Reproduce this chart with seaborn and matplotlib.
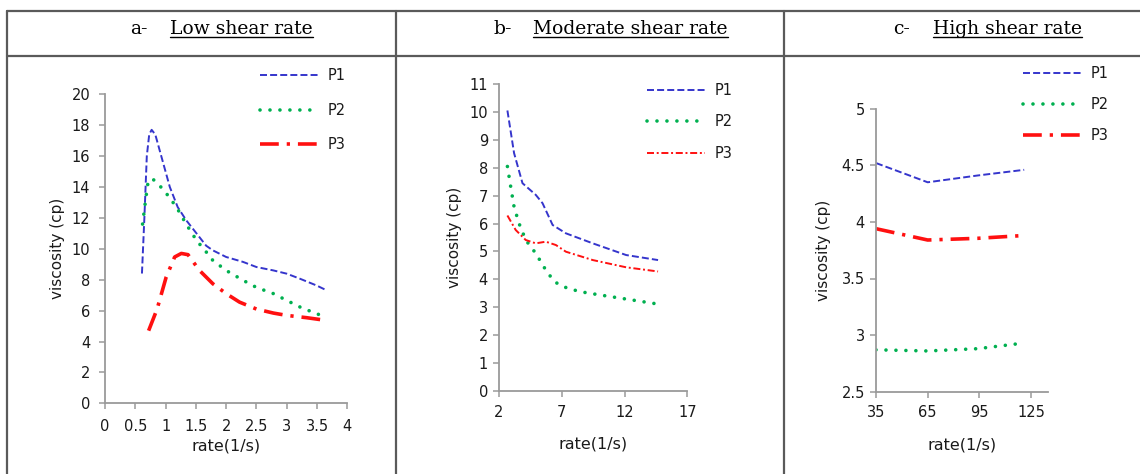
import matplotlib
matplotlib.use("Agg")
import matplotlib.pyplot as plt
from matplotlib.lines import Line2D
import numpy as np
import pandas as pd
import seaborn as sns

# ---------------- data ----------------
# Panel a: low shear rate
a_p1_x = [0.61, 0.65, 0.69, 0.73, 0.77, 0.83, 0.95, 1.07, 1.20, 1.34, 1.51, 1.67, 1.78, 2.00, 2.28, 2.50, 2.78, 3.00, 3.22, 3.49, 3.66]
a_p1_y = [8.4, 12.0, 16.0, 17.4, 17.7, 17.4, 15.7, 14.0, 12.7, 11.85, 11.0, 10.2, 9.9, 9.47, 9.15, 8.82, 8.6, 8.39, 8.06, 7.63, 7.31]
a_p2_x = [0.62, 0.67, 0.71, 0.78, 0.90, 1.01, 1.18, 1.34, 1.51, 1.67, 1.78, 2.00, 2.28, 2.50, 2.78, 3.00, 3.22, 3.49, 3.66]
a_p2_y = [11.6, 13.15, 14.3, 14.55, 14.1, 13.6, 12.7, 11.6, 10.55, 9.8, 9.25, 8.6, 7.96, 7.5, 7.1, 6.66, 6.23, 5.8, 5.58]
a_p3_x = [0.72, 0.86, 1.01, 1.15, 1.26, 1.37, 1.56, 1.78, 2.00, 2.22, 2.50, 2.78, 3.00, 3.33, 3.66]
a_p3_y = [4.7, 6.1, 8.17, 9.47, 9.7, 9.62, 8.6, 7.74, 7.1, 6.55, 6.1, 5.84, 5.69, 5.54, 5.36]

# Panel b: moderate shear rate
b_p1_x = [2.67, 3.2, 3.87, 4.93, 5.47, 6.27, 7.33, 9.47, 12.13, 14.67]
b_p1_y = [10.06, 8.53, 7.45, 7.03, 6.73, 5.95, 5.65, 5.29, 4.87, 4.69]
b_p2_x = [2.67, 2.93, 3.2, 3.6, 4.13, 4.93, 5.73, 6.4, 7.07, 8.4, 10.0, 12.13, 14.67]
b_p2_y = [8.05, 7.33, 6.6, 6.0, 5.41, 4.93, 4.33, 3.92, 3.74, 3.56, 3.44, 3.29, 3.11]
b_p3_x = [2.67, 3.33, 4.13, 4.93, 5.73, 6.53, 7.33, 9.47, 12.13, 14.67]
b_p3_y = [6.29, 5.77, 5.41, 5.29, 5.35, 5.23, 4.99, 4.69, 4.43, 4.28]

# Panel c: high shear rate
c_x = [35, 65, 94, 121]
c_p1_y = [4.52, 4.35, 4.41, 4.46]
c_p2_y = [2.87, 2.86, 2.88, 2.93]
c_p3_y = [3.94, 3.84, 3.855, 3.88]

series_labels = ["P1", "P2", "P3"]
panel_letters = ["a-", "b-", "c-"]
panel_titles = ["Low shear rate", "Moderate shear rate", "High shear rate"]
x_label = "rate(1/s)"
y_label = "viscosity (cp)"

a_xticks = [0, 0.5, 1, 1.5, 2, 2.5, 3, 3.5, 4]
a_yticks = [0, 2, 4, 6, 8, 10, 12, 14, 16, 18, 20]
b_xticks = [2, 7, 12, 17]
b_yticks = list(range(0, 12))
c_xticks = [35, 65, 95, 125]
c_yticks = [2.5, 3, 3.5, 4, 4.5, 5]

# ---------------- style ----------------
sns.set_theme(style="white")
plt.rcParams['font.family'] = ['DejaVu Sans']
plt.rcParams['lines.scale_dashes'] = True

W, H = 1140, 474
fig = plt.figure(figsize=(W / 100, H / 100), dpi=100)
fig.patch.set_facecolor("white")

BLUE = "#3535CC"
GREEN = "#00B050"
RED = "#FF1010"
AXC = "#9A9A9A"
TXT = "#1a1a1a"


def ax_at(l, r, t, b):
    return fig.add_axes([l / W, 1 - b / H, (r - l) / W, (b - t) / H])


def draw(ax, x, y, label, color, lw, dashes, cap="butt"):
    df = pd.DataFrame({"x": x, "y": y})
    sns.lineplot(data=df, x="x", y="y", ax=ax, color=color, linewidth=lw,
                 label=label, estimator=None, errorbar=None, sort=False)
    ln = ax.lines[-1]
    ln.set_dashes(dashes)
    ln.set_dash_capstyle(cap)
    return ln


def style_axes(ax, xlim, ylim, xticks, yticks, ypad, xpad, xlab_top, ylab_right, fmt):
    ax.set_xlim(*xlim)
    ax.set_ylim(*ylim)
    ax.set_xticks(xticks)
    ax.set_yticks(yticks)
    ax.set_xticklabels([fmt(v) for v in xticks])
    ax.set_yticklabels([fmt(v) for v in yticks])
    for s in ["top", "right"]:
        ax.spines[s].set_visible(False)
    for s in ["left", "bottom"]:
        ax.spines[s].set_color(AXC)
        ax.spines[s].set_linewidth(1.3)
    ax.tick_params(axis="both", direction="out", length=4, width=1.1, color=AXC,
                   labelcolor=TXT, labelsize=10.5)
    ax.tick_params(axis="y", pad=ypad, left=True)
    ax.tick_params(axis="x", pad=xpad, bottom=True)
    ax.set_xlabel(x_label, fontsize=11.5, color=TXT)
    ax.set_ylabel(y_label, fontsize=11, color=TXT)
    pos = ax.get_position()
    hpx = pos.height * H
    wpx = pos.width * W
    ax.xaxis.set_label_coords(0.5, -xlab_top / hpx)
    ax.yaxis.set_label_coords(-ylab_right / wpx, 0.5)
    ax.grid(False)
    ax.set_facecolor("none")


def fmt_g(v):
    return "%g" % v


def add_legend(ax, x0, y0, spacing_px, handles):
    fs = 10.5
    fpx = fs * 100 / 72
    leg = ax.legend(handles=handles, labels=series_labels, loc="upper left",
                    bbox_to_anchor=(x0 / W, 1 - y0 / H), bbox_transform=fig.transFigure,
                    frameon=False, fontsize=fs, handlelength=4.0, handletextpad=0.65,
                    labelspacing=(spacing_px - 1.05 * fpx) / fpx, borderpad=0, borderaxespad=0)
    for t in leg.get_texts():
        t.set_color(TXT)
    return leg


# Panel a
axa = ax_at(105, 347.3, 94.3, 403.3)
h1 = draw(axa, a_p1_x, a_p1_y, "P1", BLUE, 1.4, (3.6, 1.6))
h2 = draw(axa, a_p2_x, a_p2_y, "P2", GREEN, 2.6, (0.01, 2.75), cap="round")
h3 = draw(axa, a_p3_x, a_p3_y, "P3", RED, 2.6, (5.2, 2.2, 0.9, 2.2))
style_axes(axa, (0, 4), (0, 20), a_xticks, a_yticks, 6.5, 7.5, 35, 40, fmt_g)
add_legend(axa, 260, 68, 35, [h1, h2, h3])

# Panel b
axb = ax_at(499, 687.3, 84.3, 390.7)
g1 = draw(axb, b_p1_x, b_p1_y, "P1", BLUE, 1.4, (3.6, 1.6))
g2 = draw(axb, b_p2_x, b_p2_y, "P2", GREEN, 2.6, (0.01, 2.75), cap="round")
g3 = draw(axb, b_p3_x, b_p3_y, "P3", RED, 1.4, (3.6, 1.4, 1.0, 1.4))
style_axes(axb, (2, 17), (0, 11), b_xticks, b_yticks, 4, 6, 46, 37, fmt_g)
add_legend(axb, 647, 83, 31.7, [g1, g2, g3])

# Panel c
axc = ax_at(876, 1048.3, 108.7, 391.7)
k1 = draw(axc, c_x, c_p1_y, "P1", BLUE, 1.4, (3.6, 1.6))
k2 = draw(axc, c_x, c_p2_y, "P2", GREEN, 2.6, (0.01, 2.75), cap="round")
k3 = draw(axc, c_x, c_p3_y, "P3", RED, 2.6, (5.2, 2.2, 0.9, 2.2))
style_axes(axc, (35, 135), (2.5, 5), c_xticks, c_yticks, 4, 5.5, 46, 45, fmt_g)
add_legend(axc, 1023, 66, 31.2, [k1, k2, k3])

# ---------------- table frame ----------------
FRAME = "#5a5a5a"
flw = 1.6


def fline(x0, y0, x1, y1):
    fig.add_artist(Line2D([x0 / W, x1 / W], [1 - y0 / H, 1 - y1 / H],
                          transform=fig.transFigure, color=FRAME, linewidth=flw))


fline(7, 11, W, 11)
fline(7, 55.5, W, 55.5)
fline(7, 11, 7, H)
fline(395.7, 11, 395.7, H)
fline(784.3, 11, 784.3, H)

# ---------------- headers ----------------
letter_x = [130, 493, 893]
title_x = [170, 533, 933]
fig.canvas.draw()
renderer = fig.canvas.get_renderer()
for lx, tx, letter, title in zip(letter_x, title_x, panel_letters, panel_titles):
    fig.text(lx / W, 1 - 33.5 / H, letter, family="DejaVu Serif", fontsize=13.5,
             va="baseline", ha="left", color="black")
    t = fig.text(tx / W, 1 - 33.5 / H, title, family="DejaVu Serif", fontsize=13.5,
                 va="baseline", ha="left", color="black")
    bb = t.get_window_extent(renderer=renderer)
    fig.add_artist(Line2D([bb.x0 / W, bb.x1 / W], [1 - 37 / H, 1 - 37 / H],
                          transform=fig.transFigure, color="black", linewidth=1.0))

fig.savefig("out.png", dpi=100, facecolor="white")
